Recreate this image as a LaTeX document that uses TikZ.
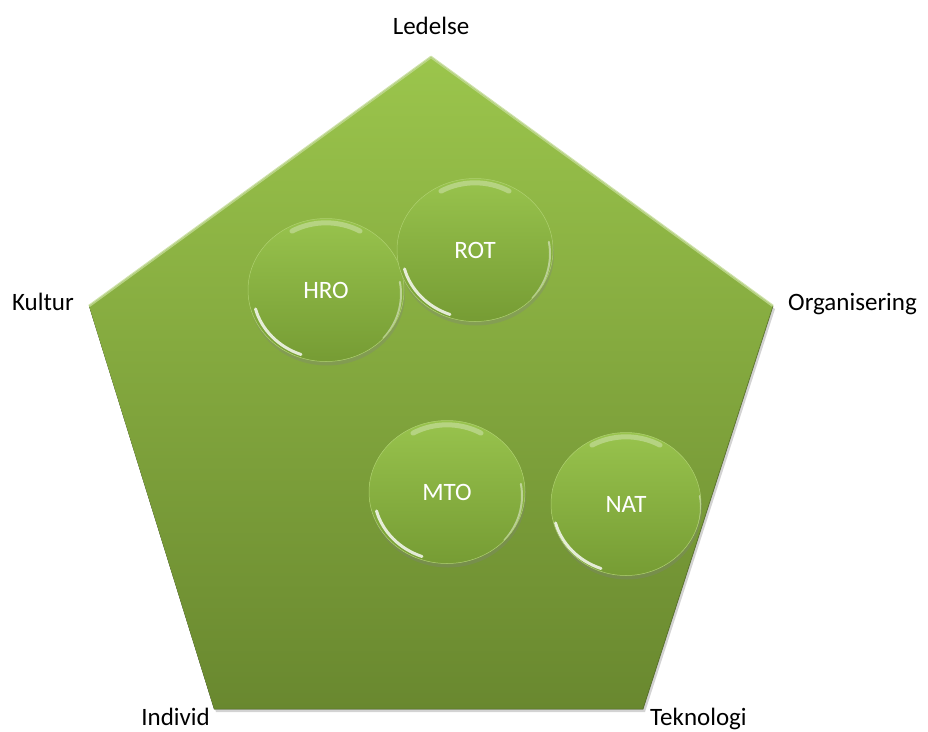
\documentclass[tikz,border=0pt]{standalone}
\usepackage{fontspec}
\setmainfont{Carlito}
\usetikzlibrary{shapes.geometric,shadows,calc}
\definecolor{leafhi}{HTML}{9BC54C}
\definecolor{leafmid}{HTML}{7FA23B}
\definecolor{leaflo}{HTML}{69882F}
\definecolor{bubhi}{HTML}{98C34D}
\definecolor{bublo}{HTML}{769C34}
\tikzset{%
        corner/.style = {font=\fontsize{25}{30}\selectfont, inner sep=0pt},
        glint/.style = {white, line width=3pt, line cap=round},
        bubble/.style = {
            ellipse,
            minimum width = 156pt,
            minimum height = 143pt,
            inner sep = 0pt,
            top color = bubhi,
            bottom color = bublo,
            draw = leafhi!80!white,
            line width = .5pt,
            text = white,
            font = \fontsize{25}{30}\selectfont,
            drop shadow = {opacity=.3, shadow xshift=1pt, shadow yshift=-4pt},
            path picture = {
                \draw[glint, opacity=.8] (path picture bounding box.center) ++(195:73pt)
                    arc[start angle=195, end angle=250, x radius=73pt, y radius=67pt];
                \draw[glint, opacity=.3, line width=5pt] (path picture bounding box.center) ++(60:68pt)
                    arc[start angle=60, end angle=120, x radius=68pt, y radius=62pt];
                \draw[glint, opacity=.45, line width=2pt] (path picture bounding box.center) ++(-40:75pt)
                    arc[start angle=-40, end angle=10, x radius=75pt, y radius=69pt];
            }
        }
}

\begin{document}
\begin{tikzpicture}[x=1pt, y=-1pt]
    \useasboundingbox (0,0) rectangle (928,731);
    % corners of the pentagon
    \coordinate (top) at (431,57);
    \coordinate (left) at (89,306);
    \coordinate (right) at (773,306);
    \coordinate (bl) at (214,709);
    \coordinate (br) at (643,709);

    \fill[top color=leafhi, bottom color=leaflo,
          drop shadow={opacity=.35, shadow xshift=2pt, shadow yshift=-3pt}]
        (top) -- (right) -- (br) -- (bl) -- (left) -- cycle;
    \draw[leafhi!60!white, line width=2.5pt, line join=round, opacity=.8]
        (left) -- (top) -- (right);
    \draw[leaflo!80!black, line width=1pt, opacity=.5]
        (right) -- (br) -- (bl);

    \node[corner, anchor=base] (led) at ($(top)+(0,-23)$) {Ledelse};
    \node[corner, anchor=base east] (kul) at ($(left)+(-15,4)$) {Kultur};
    \node[corner, anchor=base west] (org) at ($(right)+(15,4)$) {Organisering};
    \node[corner, anchor=base east] (ind) at ($(bl)+(-4,16)$) {Individ};
    \node[corner, anchor=base west] (tek) at ($(br)+(7,16)$) {Teknologi};

    \node[bubble] (hro) at (326,290) {HRO};
    \node[bubble] (rot) at (475,250) {ROT};
    \node[bubble] (mto) at (447,492) {MTO};
    \node[bubble, minimum width=150pt] (nat) at (626,504) {NAT};
\end{tikzpicture}
\end{document}
